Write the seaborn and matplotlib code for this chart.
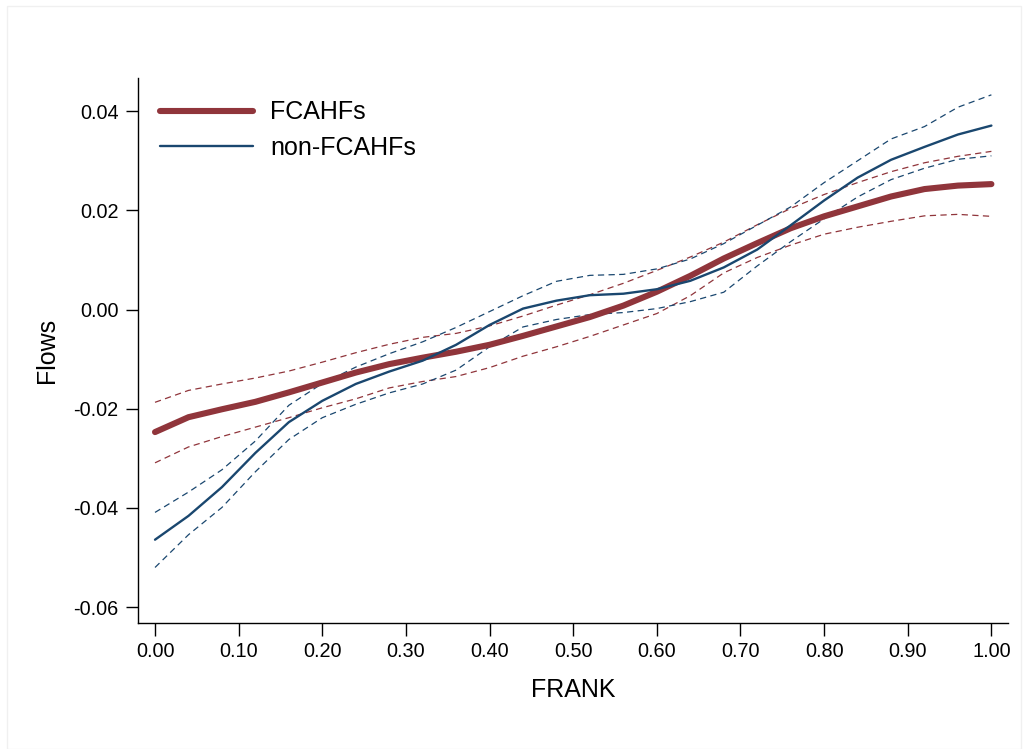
import numpy as np
import pandas as pd
import matplotlib
matplotlib.use('Agg')
import matplotlib.pyplot as plt
import seaborn as sns

# FRANK grid
frank = [0.00, 0.04, 0.08, 0.12, 0.16, 0.20, 0.24, 0.28, 0.32, 0.36, 0.40, 0.44, 0.48,
         0.52, 0.56, 0.60, 0.64, 0.68, 0.72, 0.76, 0.80, 0.84, 0.88, 0.92, 0.96, 1.00]

# FCAHFs fit and confidence band
fcahf = [-0.0247, -0.0217, -0.0201, -0.0186, -0.0167, -0.0147, -0.0127, -0.0110, -0.0097,
         -0.0085, -0.0071, -0.0053, -0.0034, -0.0015, 0.0008, 0.0036, 0.0068, 0.0103,
         0.0134, 0.0164, 0.0188, 0.0208, 0.0228, 0.0243, 0.0250, 0.0253]
fcahf_hi = [-0.0187, -0.0163, -0.0150, -0.0138, -0.0124, -0.0106, -0.0087, -0.0070, -0.0056,
            -0.0048, -0.0033, -0.0013, 0.0009, 0.0030, 0.0053, 0.0079, 0.0106, 0.0136,
            0.0171, 0.0204, 0.0232, 0.0256, 0.0278, 0.0296, 0.0309, 0.0319]
fcahf_lo = [-0.0309, -0.0277, -0.0256, -0.0237, -0.0218, -0.0198, -0.0180, -0.0158, -0.0145,
            -0.0135, -0.0117, -0.0094, -0.0075, -0.0054, -0.0031, -0.0008, 0.0028, 0.0074,
            0.0105, 0.0130, 0.0152, 0.0166, 0.0178, 0.0189, 0.0192, 0.0188]

# non-FCAHFs fit and confidence band
non_fcahf = [-0.0464, -0.0416, -0.0358, -0.0289, -0.0227, -0.0184, -0.0150, -0.0125, -0.0103,
             -0.0071, -0.0031, 0.0002, 0.0018, 0.0029, 0.0032, 0.0041, 0.0058, 0.0085,
             0.0121, 0.0170, 0.0220, 0.0266, 0.0302, 0.0328, 0.0353, 0.0371]
non_fcahf_hi = [-0.0409, -0.0368, -0.0323, -0.0265, -0.0193, -0.0149, -0.0116, -0.0089, -0.0065,
                -0.0036, -0.0004, 0.0028, 0.0057, 0.0069, 0.0071, 0.0082, 0.0102, 0.0133,
                0.0170, 0.0207, 0.0256, 0.0300, 0.0344, 0.0369, 0.0408, 0.0433]
non_fcahf_lo = [-0.0520, -0.0454, -0.0399, -0.0327, -0.0262, -0.0218, -0.0191, -0.0168, -0.0150,
                -0.0122, -0.0075, -0.0035, -0.0020, -0.0010, -0.0006, 0.0002, 0.0016, 0.0035,
                0.0088, 0.0137, 0.0183, 0.0227, 0.0262, 0.0285, 0.0303, 0.0310]

xticks = [0.0, 0.1, 0.2, 0.3, 0.4, 0.5, 0.6, 0.7, 0.8, 0.9, 1.0]
yticks = [-0.06, -0.04, -0.02, 0.00, 0.02, 0.04]

red = '#90353B'
navy = '#1A476F'

sns.set_style('white')
plt.rcParams['font.family'] = ['Liberation Sans', 'DejaVu Sans']
plt.rcParams['text.color'] = 'black'
plt.rcParams['axes.labelcolor'] = 'black'

fig = plt.figure(figsize=(10.28, 7.49), dpi=100)
ax = fig.add_axes([0.1342, 0.1682, 0.8463, 0.7277])

df = pd.DataFrame({'FRANK': frank})
dash = (0, (5, 3.5))

# confidence bands first
sns.lineplot(x=df['FRANK'], y=fcahf_hi, color=red, lw=0.9, linestyle=dash, ax=ax)
sns.lineplot(x=df['FRANK'], y=fcahf_lo, color=red, lw=0.9, linestyle=dash, ax=ax)
sns.lineplot(x=df['FRANK'], y=non_fcahf_hi, color=navy, lw=0.9, linestyle=dash, ax=ax)
sns.lineplot(x=df['FRANK'], y=non_fcahf_lo, color=navy, lw=0.9, linestyle=dash, ax=ax)

# fitted lines
sns.lineplot(x=df['FRANK'], y=fcahf, color=red, lw=4.4, label='FCAHFs', ax=ax,
             solid_capstyle='round')
sns.lineplot(x=df['FRANK'], y=non_fcahf, color=navy, lw=1.7, label='non-FCAHFs', ax=ax)

ax.set_xlim(-0.0204, 1.0198)
ax.set_ylim(-0.0632, 0.0467)
ax.set_xticks(xticks)
ax.set_xticklabels([f'{t:.2f}' for t in xticks])
ax.set_yticks(yticks)
ax.set_yticklabels([f'{t:.2f}' for t in yticks])
ax.tick_params(axis='both', which='major', direction='out', length=9, width=1.0,
               labelsize=14.3, color='black', labelcolor='black', pad=5, bottom=True, left=True)
ax.set_xlabel('FRANK', fontsize=18, labelpad=12)
ax.set_ylabel('Flows', fontsize=18, labelpad=10)

for s in ['top', 'right']:
    ax.spines[s].set_visible(False)
for s in ['left', 'bottom']:
    ax.spines[s].set_color('black')
    ax.spines[s].set_linewidth(1.0)

leg = ax.legend(loc='upper left', bbox_to_anchor=(0.0, 1.0), frameon=False, fontsize=18,
                handlelength=3.7, handletextpad=0.7, labelspacing=0.45, borderaxespad=0.5)
for t in leg.get_texts():
    t.set_color('black')

# faint outer frame
fig.patches.append(matplotlib.patches.Rectangle((0.007, 0.0), 0.986, 0.992, transform=fig.transFigure,
                                                fill=False, edgecolor='#f0f0f0', lw=1.0))

fig.savefig('out.png', dpi=100)
